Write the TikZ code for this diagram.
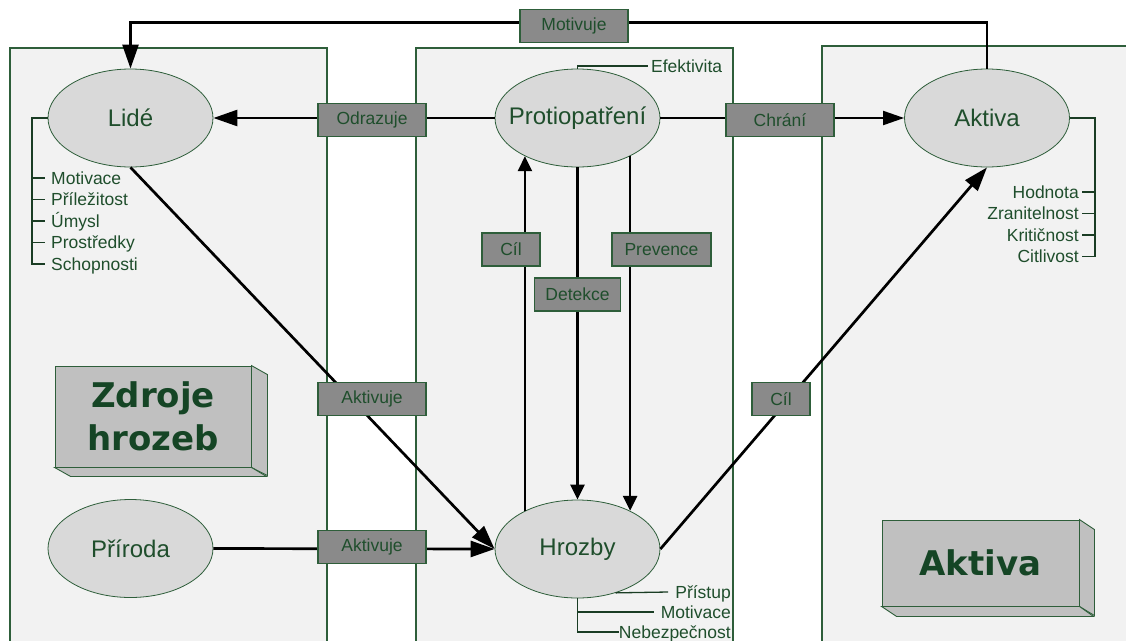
\documentclass[tikz,border=0pt]{standalone}
\usepackage{fontspec}
\setmainfont{Liberation Sans}
\newfontfamily\heavy{DejaVu Sans}
\usetikzlibrary{arrows.meta,shapes.geometric}
\definecolor{tg}{HTML}{1F4E2C}
\definecolor{bg}{HTML}{2E5E3A}
\definecolor{hg}{HTML}{154525}
\definecolor{panelfill}{HTML}{F2F2F2}
\definecolor{ellfill}{HTML}{D9D9D9}
\definecolor{boxfill}{HTML}{8A8A8A}
\definecolor{cubefill}{HTML}{C0C0C0}
\definecolor{attrc}{HTML}{1A3D24}
\begin{document}
\begin{tikzpicture}[x=1pt,y=-1pt,
  panel/.style={draw=bg,line width=1.2pt,fill=panelfill},
  ell/.style={ellipse,draw=bg,line width=0.8pt,fill=ellfill,minimum width=165pt,minimum height=98pt,inner sep=0pt,text=tg,font=\fontsize{24}{28}\selectfont},
  lbl/.style={draw=bg,line width=1.2pt,fill=boxfill,text=tg,font=\fontsize{17.5}{21}\selectfont,minimum height=33pt,inner sep=0pt},
  attr/.style={draw=attrc,line width=1.3pt},
  atxt/.style={text=tg,font=\fontsize{17.5}{21}\selectfont,inner sep=0pt,text height=12.5pt,text depth=0pt},
  conn/.style={line width=2.7pt,draw=black},
  big/.style={-{Triangle[length=24pt,width=16pt]}},
  mid/.style={-{Triangle[length=21pt,width=14pt]}},
  small/.style={-{Triangle[length=15pt,width=14pt]}},
  cube/.style={draw=bg,line width=0.9pt,fill=cubefill},
  cubetxt/.style={text=hg,font=\heavy\bfseries\fontsize{34}{43}\selectfont,align=center,inner sep=0pt}
]
\useasboundingbox (0,0) rectangle (1126,640);
\clip (0,0) rectangle (1126,640);

% panels
\draw[panel] (10,48) rectangle (327,660);
\draw[panel] (416,48) rectangle (733,660);
\draw[panel] (822,46) rectangle (1140,660);

% ellipses
\node[ell] (lide) at (130.5,118) {\makebox[0pt]{Lidé}};
\node[ell] (prot) at (577.5,118) {\makebox[0pt]{Protiopatření}};
\node[ell] (akt) at (987,118) {\makebox[0pt]{Aktiva}};
\node[ell] (hroz) at (577.5,549) {\makebox[0pt]{Hrozby}};
\node[ell] (prir) at (130.5,548.5) {\makebox[0pt]{Příroda}};

% 3D boxes
\node[cube,minimum width=196pt,minimum height=101pt,inner sep=0pt] (zdroje) at (153,416.5) {};
\draw[cube] (zdroje.north east) -- ++(16,9) -- ++(0,101) -- (zdroje.south east) -- cycle;
\draw[cube] (zdroje.south west) -- ++(16,9) -- ++(196,0) -- (zdroje.south east) -- cycle;
\node[cubetxt] at (zdroje.center) {Zdroje\\hrozeb};

\node[cube,minimum width=197pt,minimum height=86pt,inner sep=0pt] (aktbox) at (980.5,563) {};
\draw[cube] (aktbox.north east) -- ++(15,10) -- ++(0,86) -- (aktbox.south east) -- cycle;
\draw[cube] (aktbox.south west) -- ++(15,10) -- ++(197,0) -- (aktbox.south east) -- cycle;
\node[cubetxt] at (aktbox.center) {Aktiva};

% connectors
\draw[conn,big] (akt.north) -- ++(0,-46) -| (lide.north);
\draw[conn,big] (prot.west) -- (lide.east);
\draw[conn,line width=2pt,mid] (prot.east) -- (akt.west);
\draw[conn,big] (lide.south) -- (hroz.west);
\draw[conn,big] (prir.east) -- (hroz.west);
\draw[conn,small] (hroz.144) -- (prot.216);
\draw[conn,small] (prot.south) -- (hroz.north);
\draw[conn,small] (prot.324) -- (hroz.36);
\draw[conn,big] (hroz.east) -- (akt.south);

% connector labels
\node[lbl,minimum width=108pt] (motivuje) at (574,26) {Motivuje};
\node[lbl,minimum width=108pt] (odrazuje) at (372,120) {Odrazuje};
\node[lbl,minimum width=108pt] (chrani) at (780,120) {Chrání};
\node[lbl,minimum width=58pt] (cil1) at (511,249.5) {Cíl};
\node[lbl,minimum width=99pt] (prevence) at (661.5,249.5) {Prevence};
\node[lbl,minimum width=86pt] (detekce) at (577.5,294.5) {Detekce};
\node[lbl,minimum width=108pt] (aktivuje1) at (372,399) {Aktivuje};
\node[lbl,minimum width=108pt] (aktivuje2) at (372,547) {Aktivuje};
\node[lbl,minimum width=58pt] (cil2) at (781,399) {Cíl};

% Lidé attributes
\node[atxt,anchor=west] (l1) at (51,178) {Motivace};
\node[atxt,anchor=west] (l2) at (51,199.5) {Příležitost};
\node[atxt,anchor=west] (l3) at (51,221) {Úmysl};
\node[atxt,anchor=west] (l4) at (51,242.5) {Prostředky};
\node[atxt,anchor=west] (l5) at (51,264) {Schopnosti};
\draw[attr] (lide.west) -- (32,118) -- (32,264) -- ([xshift=-6pt]l5.west);
\foreach \n in {l1,l2,l3,l4} \draw[attr] (\n.west -| 32,0) -- ([xshift=-6pt]\n.west);

% Protiopatření attribute
\node[atxt,anchor=west] (ef) at (651,66) {Efektivita};
\draw[attr] (prot.north) -- (prot.north |- ef.west) -- ([xshift=-3pt]ef.west);

% Aktiva attributes
\node[atxt,anchor=east] (a1) at (1079,192) {Hodnota};
\node[atxt,anchor=east] (a2) at (1079,213.5) {Zranitelnost};
\node[atxt,anchor=east] (a3) at (1079,235) {Kritičnost};
\node[atxt,anchor=east] (a4) at (1079,256.5) {Citlivost};
\draw[attr] (akt.east) -- (1095,118) -- (1095,256.5) -- ([xshift=3pt]a4.east);
\foreach \n in {a1,a2,a3} \draw[attr] (\n.east -| 1095,0) -- ([xshift=3pt]\n.east);

% Hrozby attributes
\node[atxt,anchor=east] (h1) at (731,592) {Přístup};
\node[atxt,anchor=east] (h2) at (731,612) {Motivace};
\node[atxt,anchor=east] (h3) at (731,632) {Nebezpečnost};
\draw[attr] (hroz.-49) -- ([xshift=-7pt]h1.west);
\draw[attr] (hroz.south) -- (hroz.south |- h3.west) -- (h3.west);
\draw[attr] (hroz.south |- h2.west) -- ([xshift=-7pt]h2.west);
\end{tikzpicture}
\end{document}
